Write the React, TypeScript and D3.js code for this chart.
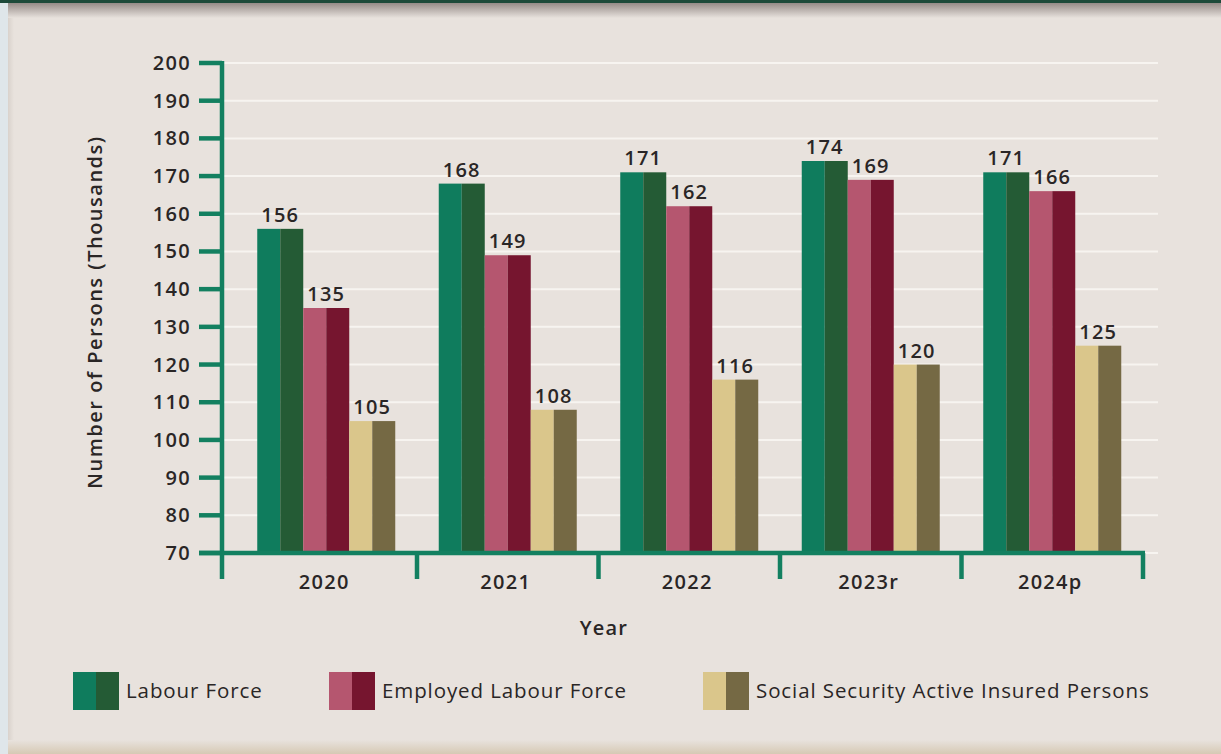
import React from "react";
import * as d3 from "d3";

const years = ["2020", "2021", "2022", "2023r", "2024p"];
const seriesNames = ["Labour Force", "Employed Labour Force", "Social Security Active Insured Persons"];
const labourForce = [156, 168, 171, 174, 171];
const employed = [135, 149, 162, 169, 166];
const socialSecurity = [105, 108, 116, 120, 125];
const yTicks = [70, 80, 90, 100, 110, 120, 130, 140, 150, 160, 170, 180, 190, 200];

const lightColors = ["#0f7c5d", "#b5566f", "#dac68b"];
const darkColors = ["#245b35", "#76152f", "#756944"];

const W = 1221;
const H = 754;
const FONT = "'Open Sans', 'DejaVu Sans', sans-serif";
const AXIS = "#138060";
const TEXT = "#2a2626";

export default function App() {
  const values = [labourForce, employed, socialSecurity];
  const y = d3.scaleLinear().domain([70, 200]).range([553, 63]);
  const x0 = d3.scaleBand<string>().domain(years).range([235.5, 1143]).padding(0);
  const x1 = d3.scaleBand<string>().domain(seriesNames).range([21.75, 159.75]).padding(0);
  const axisX = 222;
  const gridRight = 1158;
  const bw = x1.bandwidth();

  const separators = [axisX, ...years.map((yr) => (x0(yr) as number) + x0.step())];

  return (
    <div style={{ position: "absolute", left: 0, top: 0 }}>
      <svg width={W} height={H} style={{ display: "block" }}>
        <defs>
          <linearGradient id="topShadow" x1="0" y1="0" x2="0" y2="1">
            <stop offset="0" stopColor="#958b88" />
            <stop offset="1" stopColor="#e8e2dd" />
          </linearGradient>
          <linearGradient id="bottomShadow" x1="0" y1="0" x2="0" y2="1">
            <stop offset="0" stopColor="#e8e2dd" />
            <stop offset="1" stopColor="#d6c9b4" />
          </linearGradient>
          <linearGradient id="leftShadow" x1="0" y1="0" x2="1" y2="0">
            <stop offset="0" stopColor="#d9d2cc" />
            <stop offset="1" stopColor="#e8e2dd" />
          </linearGradient>
        </defs>
        <rect x={0} y={0} width={W} height={H} fill="#e8e2dd" />
        <rect x={0} y={0} width={8} height={H} fill="#dfe6ea" />
        <rect x={8} y={0} width={6} height={H} fill="url(#leftShadow)" />
        <rect x={8} y={3} width={W - 8} height={15} fill="url(#topShadow)" />
        <rect x={8} y={740} width={W - 8} height={14} fill="url(#bottomShadow)" />
        <rect x={0} y={0} width={W} height={3} fill="#1d4a3a" />

        {/* gridlines */}
        {yTicks.map((t) => (
          <line key={"g" + t} x1={axisX} x2={gridRight} y1={y(t)} y2={y(t)} stroke="#f7f4f0" strokeWidth={2} />
        ))}

        {/* bars */}
        {years.map((yr, i) => (
          <g key={yr} transform={`translate(${x0(yr)},0)`}>
            {seriesNames.map((s, j) => {
              const v = values[j][i];
              const bx = x1(s) as number;
              const top = y(v);
              const h = y(70) - top;
              return (
                <g key={s}>
                  <rect x={bx} y={top} width={bw / 2} height={h} fill={lightColors[j]} />
                  <rect x={bx + bw / 2} y={top} width={bw / 2} height={h} fill={darkColors[j]} />
                  <text
                    x={bx + bw / 2}
                    y={top - 7}
                    textAnchor="middle"
                    fontFamily={FONT}
                    fontWeight={600}
                    fontSize={20}
                    letterSpacing={1.3}
                    fill={TEXT}
                  >
                    {v}
                  </text>
                </g>
              );
            })}
          </g>
        ))}

        {/* y axis */}
        <line x1={axisX} x2={axisX} y1={y(200) - 2} y2={y(70) + 2} stroke={AXIS} strokeWidth={4.5} />
        {yTicks.map((t) => (
          <g key={"t" + t}>
            <line x1={199} x2={axisX} y1={y(t)} y2={y(t)} stroke={AXIS} strokeWidth={4.5} />
            <text
              x={191}
              y={y(t)}
              dy="0.35em"
              textAnchor="end"
              fontFamily={FONT}
              fontWeight={600}
              fontSize={20}
              letterSpacing={1.3}
              fill={TEXT}
            >
              {t}
            </text>
          </g>
        ))}

        {/* x axis */}
        <line x1={199} x2={1145} y1={y(70)} y2={y(70)} stroke={AXIS} strokeWidth={4.5} />
        {separators.map((sx, i) => (
          <line key={"s" + i} x1={sx} x2={sx} y1={y(70)} y2={579} stroke={AXIS} strokeWidth={4.5} />
        ))}
        {years.map((yr) => (
          <text
            key={"xl" + yr}
            x={(x0(yr) as number) + x0.step() / 2 - 2}
            y={582}
            dy="0.35em"
            textAnchor="middle"
            fontFamily={FONT}
            fontWeight={600}
            fontSize={20}
            letterSpacing={1.3}
            fill={TEXT}
          >
            {yr}
          </text>
        ))}

        {/* axis titles */}
        <text x={604} y={628} dy="0.35em" textAnchor="middle" fontFamily={FONT} fontWeight={600} fontSize={20} letterSpacing={1.2} fill={TEXT}>
          Year
        </text>
        <text
          transform={`translate(95,312) rotate(-90)`}
          dy="0.35em"
          textAnchor="middle"
          fontFamily={FONT}
          fontWeight={600}
          fontSize={20}
          letterSpacing={1.5}
          fill={TEXT}
        >
          Number of Persons (Thousands)
        </text>

        {/* legend */}
        {seriesNames.map((s, j) => {
          const lx = [73, 329, 703][j];
          return (
            <g key={"lg" + s}>
              <rect x={lx} y={672} width={23} height={38} fill={lightColors[j]} />
              <rect x={lx + 23} y={672} width={23} height={38} fill={darkColors[j]} />
              <text x={lx + 53} y={691} dy="0.35em" fontFamily={FONT} fontSize={20.5} letterSpacing={0.9} fill={TEXT}>
                {s}
              </text>
            </g>
          );
        })}
      </svg>
    </div>
  );
}
